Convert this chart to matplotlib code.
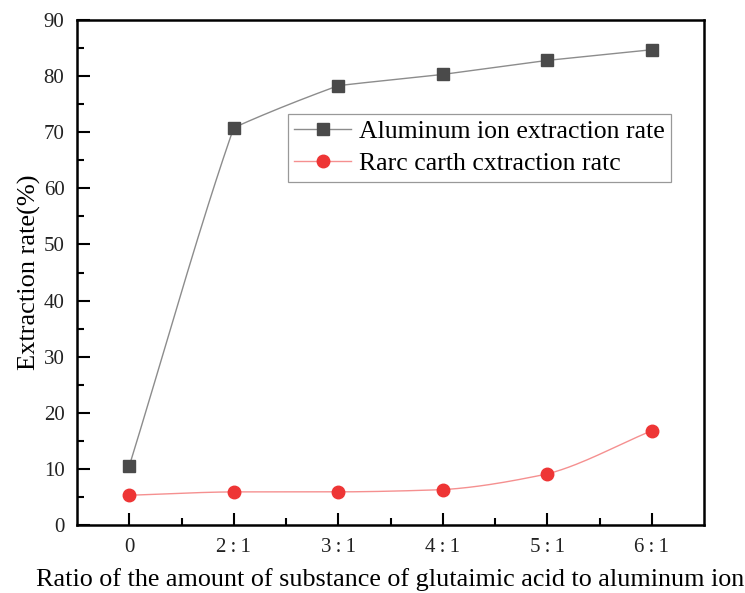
import numpy as np
import matplotlib
matplotlib.use("Agg")
import matplotlib.pyplot as plt
from matplotlib.ticker import MultipleLocator, FixedLocator

categories = ["0", "2\u2009:\u20091", "3\u2009:\u20091", "4\u2009:\u20091", "5\u2009:\u20091", "6\u2009:\u20091"]
aluminum = [10.5, 70.8, 78.3, 80.3, 82.8, 84.7]
rare_earth = [5.3, 5.9, 5.9, 6.3, 9.1, 16.8]

plt.rcParams['font.family'] = ['Liberation Serif', 'DejaVu Serif']


def smooth(x, y, mix=1.0, n=30):
    # monotone cubic Hermite curve through the points, blended with straight segments
    x = np.asarray(x, float)
    y = np.asarray(y, float)
    d = np.diff(y) / np.diff(x)
    m = np.zeros_like(y)
    for i in range(1, len(y) - 1):
        if d[i - 1] * d[i] > 0:
            m[i] = 2 * d[i - 1] * d[i] / (d[i - 1] + d[i])
    m[0] = d[0]
    m[-1] = d[-1]
    xs, ys = [], []
    for i in range(len(x) - 1):
        h = x[i + 1] - x[i]
        t = np.linspace(0, 1, n)
        h00 = 2 * t**3 - 3 * t**2 + 1
        h10 = t**3 - 2 * t**2 + t
        h01 = -2 * t**3 + 3 * t**2
        h11 = t**3 - t**2
        lin = y[i] + t * (y[i + 1] - y[i])
        cur = h00 * y[i] + h10 * h * m[i] + h01 * y[i + 1] + h11 * h * m[i + 1]
        xs.append(x[i] + t * h)
        ys.append((1 - mix) * lin + mix * cur)
    return np.concatenate(xs), np.concatenate(ys)


fig = plt.figure(figsize=(7.45, 5.93), dpi=100)
ax = fig.add_axes([77 / 745, 1 - 525 / 593, (704 - 77) / 745, (525 - 20) / 593])

xpos = np.arange(len(categories))
al_color = "#4a4a4a"
re_color = "#ee3535"
al_line = "#8c8c8c"
re_line = "#f59090"

sx, sy = smooth(xpos, aluminum, mix=0.15)
ax.plot(sx, sy, color=al_line, lw=1.0, zorder=2)
ax.plot(xpos, aluminum, ls="none", marker="s", ms=8, color=al_color, zorder=3)

sx2, sy2 = smooth(xpos, rare_earth, mix=0.8)
ax.plot(sx2, sy2, color=re_line, lw=1.0, zorder=2)
ax.plot(xpos, rare_earth, ls="none", marker="o", ms=9, color=re_color, zorder=3)

# legend proxies
l1, = ax.plot([], [], color=al_line, lw=1.0, marker="s", ms=8, mfc=al_color, mec=al_color)
l2, = ax.plot([], [], color=re_line, lw=1.0, marker="o", ms=9, mfc=re_color, mec=re_color)
leg = ax.legend([l1, l2], ["Aluminum ion extraction rate", "Rarc carth cxtraction ratc"],
                loc="upper left", bbox_to_anchor=((288 - 77) / 627, (525 - 114) / 505),
                fontsize=18.5, frameon=True, fancybox=False, borderpad=0.25,
                handlelength=2.2, handletextpad=0.3, labelspacing=0.35, borderaxespad=0)
leg.get_frame().set_edgecolor("#808080")
leg.get_frame().set_linewidth(0.9)

ax.set_xlim(-0.5, 5.5)
ax.set_ylim(0, 90)
ax.set_xticks(xpos)
ax.set_xticklabels(categories)
ax.xaxis.set_minor_locator(FixedLocator(xpos[:-1] + 0.5))
ax.yaxis.set_major_locator(MultipleLocator(10))
ax.yaxis.set_minor_locator(MultipleLocator(5))
ax.tick_params(which="both", direction="in", width=1.5, top=False, right=False, labelsize=15,
               colors="black", labelcolor="#222222")
ax.tick_params(which="major", length=9, pad=9)
ax.tick_params(which="minor", length=5)
for s in ax.spines.values():
    s.set_linewidth(1.8)

ax.set_ylabel("Extraction rate(%)", fontsize=19, labelpad=2)
ax.set_xlabel("Ratio of the amount of substance of glutaimic acid to aluminum ion", fontsize=18.8, labelpad=8)

fig.savefig("out.png", dpi=100)
